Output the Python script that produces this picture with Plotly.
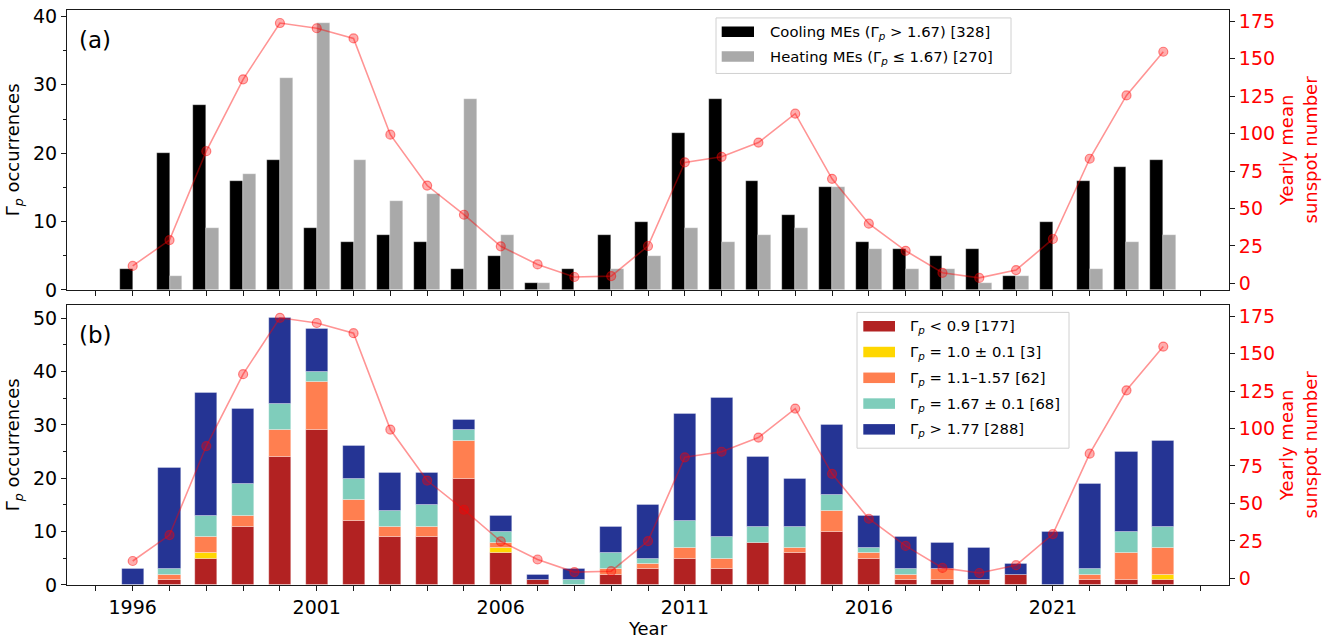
import numpy as np
import plotly.graph_objects as go

# ---------------- data ----------------
years = list(range(1996, 2025))
cooling = [3, 20, 27, 16, 19, 9, 7, 8, 7, 3, 5, 1, 3, 8, 10, 23, 28, 16, 11, 15, 7, 6, 5, 6, 2, 10, 16, 18, 19]
heating = [0, 2, 9, 17, 31, 39, 19, 13, 14, 28, 8, 1, 0, 3, 5, 9, 7, 8, 9, 15, 6, 3, 3, 1, 2, 0, 3, 7, 8]

g_lt09 = [0, 1, 5, 11, 24, 29, 12, 9, 9, 20, 6, 1, 0, 2, 3, 5, 3, 8, 6, 10, 5, 1, 1, 1, 2, 0, 1, 1, 1]
g_10 = [0, 0, 1, 0, 0, 0, 0, 0, 0, 0, 1, 0, 0, 0, 0, 0, 0, 0, 0, 0, 0, 0, 0, 0, 0, 0, 0, 0, 1]
g_11_157 = [0, 1, 3, 2, 5, 9, 4, 2, 2, 7, 1, 0, 0, 1, 1, 2, 2, 0, 1, 4, 1, 1, 2, 0, 0, 0, 1, 5, 5]
g_167 = [0, 1, 4, 6, 5, 2, 4, 3, 4, 2, 2, 0, 1, 3, 1, 5, 4, 3, 4, 3, 1, 1, 0, 0, 0, 0, 1, 4, 4]
g_gt177 = [3, 19, 23, 14, 16, 8, 6, 7, 6, 2, 3, 1, 2, 5, 10, 20, 26, 13, 9, 13, 6, 6, 5, 6, 2, 10, 16, 15, 16]

sunspots = [11.6, 28.9, 88.3, 136.3, 173.9, 170.4, 163.6, 99.3, 65.3, 45.8, 24.7, 12.6, 4.2, 4.8,
            24.9, 80.8, 84.5, 94.0, 113.3, 69.8, 39.8, 21.7, 7.0, 3.6, 8.8, 29.6, 83.2, 125.5, 154.7]

label_a = ["Cooling MEs (Γ<sub><i>p</i></sub> &gt; 1.67) [328]",
           "Heating MEs (Γ<sub><i>p</i></sub> ≤ 1.67) [270]"]
label_b = ["Γ<sub><i>p</i></sub> &lt; 0.9 [177]",
           "Γ<sub><i>p</i></sub> = 1.0 ± 0.1 [3]",
           "Γ<sub><i>p</i></sub> = 1.1–1.57 [62]",
           "Γ<sub><i>p</i></sub> = 1.67 ± 0.1 [68]",
           "Γ<sub><i>p</i></sub> &gt; 1.77 [288]"]
colors_a = ["#000000", "#a9a9a9"]
colors_b = ["#b22222", "#ffd700", "#ff7f50", "#7fcdbb", "#253494"]
year_ticks = [1996, 2001, 2006, 2011, 2016, 2021]
left_ticks_a = [0, 10, 20, 30, 40]
left_ticks_b = [0, 10, 20, 30, 40, 50]
right_ticks = [0, 25, 50, 75, 100, 125, 150, 175]

# ---------------- geometry helpers ----------------
W, H = 1330, 641
ML, MR, MT, MB = 67, 101, 5, 56
PW, PH = W - ML - MR, H - MT - MB


def px(x):
    return (x - ML) / PW


def py(y):
    return (H - MB - y) / PH


FONT = "DejaVu Sans"
AX = "#1a1a1a"
TICK = 19
TITLE = 18


def nz(v):
    return [None if a == 0 else a for a in v]


fig = go.Figure()

# panel (a) bars
for vals, col, off in [(cooling, colors_a[0], -0.35), (heating, colors_a[1], 0.0)]:
    fig.add_trace(go.Bar(x=years, y=nz(vals), width=0.35, offset=off, marker_color=col,
                         marker_line=dict(color="rgba(255,255,255,0.6)", width=0.5),
                         showlegend=False, xaxis="x", yaxis="y"))

# panel (b) stacked bars
layers = [g_lt09, g_10, g_11_157, g_167, g_gt177]
base = np.zeros(len(years))
for vals, col in zip(layers, colors_b):
    v = np.array(vals, dtype=float)
    fig.add_trace(go.Bar(x=years, y=nz(vals), base=base.copy(), width=0.6, marker_color=col,
                         marker_line=dict(color="rgba(255,255,255,0.6)", width=0.5),
                         showlegend=False, xaxis="x2", yaxis="y3"))
    base = base + v

# sunspot lines
for ya, xa in [("y2", "x"), ("y4", "x2")]:
    fig.add_trace(go.Scatter(x=years, y=sunspots, mode="lines+markers",
                             line=dict(color="rgba(255,0,0,0.42)", width=1.6),
                             marker=dict(size=9, color="rgba(255,0,0,0.32)",
                                         line=dict(color="rgba(255,0,0,0.45)", width=1.2)),
                             showlegend=False, xaxis=xa, yaxis=ya))

tickfont = dict(family=FONT, size=TICK, color="black")
redfont = dict(family=FONT, size=TICK, color="red")
xr = [1994.215, 2025.785]
sr = [-4.4, 182.6]

xcommon = dict(range=xr, tickvals=year_ticks, ticks="outside", ticklen=5,
               tickcolor=AX, showline=True, linecolor=AX, linewidth=1, mirror=True,
               showgrid=False, zeroline=False, tickfont=tickfont,
               minor=dict(dtick=1, tick0=1996, ticks="outside", ticklen=5, tickcolor=AX, showgrid=False))
ycommon = dict(ticks="outside", ticklen=5, tickcolor=AX, showline=True, linecolor=AX,
               linewidth=1, mirror=True, showgrid=False, zeroline=False, tickfont=tickfont,
               minor=dict(dtick=5, tick0=0, ticks="outside", ticklen=3, tickcolor=AX, showgrid=False))
y2common = dict(side="right", range=sr, tickvals=right_ticks,
                ticks="outside", ticklen=5, tickcolor=AX, showline=True, linecolor=AX,
                linewidth=1, showgrid=False, zeroline=False, tickfont=redfont,
                title=dict(text="Yearly mean<br>sunspot number",
                           font=dict(family=FONT, size=TITLE, color="red"), standoff=6))

ytitle = dict(text="Γ<sub><i>p</i></sub> occurrences", font=dict(family=FONT, size=TITLE, color="black"),
              standoff=8)

fig.update_layout(
    width=W, height=H, margin=dict(l=ML, r=MR, t=MT, b=MB),
    paper_bgcolor="white", plot_bgcolor="white", barmode="overlay", bargap=0,
    font=dict(family=FONT, size=TICK, color="black"),
    xaxis=dict(**xcommon, anchor="y", domain=[0, 1], showticklabels=False),
    xaxis2=dict(**xcommon, anchor="y3", domain=[0, 1], matches="x",
                title=dict(text="Year", font=dict(family=FONT, size=TITLE), standoff=2)),
    yaxis=dict(**ycommon, anchor="x", domain=[py(287.3), 1], range=[0, 40.95],
               tickvals=left_ticks_a, title=ytitle),
    yaxis2=dict(**y2common, anchor="x", overlaying="y"),
    yaxis3=dict(**ycommon, anchor="x2", domain=[0, py(302.3)], range=[0, 52.5],
                tickvals=left_ticks_b, title=ytitle),
    yaxis4=dict(**y2common, anchor="x2", overlaying="y3"),
)

shapes = []
annotations = []

# panel labels
for lab, yc in [("(a)", 35.7), ("(b)", 333)]:
    annotations.append(dict(text=lab, x=px(77), y=py(yc), xref="paper", yref="paper",
                            xanchor="left", yanchor="middle", showarrow=False,
                            font=dict(family=FONT, size=23, color="black")))


def add_legend(box, sw_x, text_x, rows, labels, cols):
    x0, y0, x1, y1 = box
    shapes.append(dict(type="rect", xref="paper", yref="paper", x0=px(x0), x1=px(x1),
                       y0=py(y1), y1=py(y0), line=dict(color="#d0d0d0", width=1),
                       fillcolor="rgba(255,255,255,0.85)", layer="above"))
    for yc, lab, col in zip(rows, labels, cols):
        shapes.append(dict(type="rect", xref="paper", yref="paper", x0=px(sw_x[0]), x1=px(sw_x[1]),
                           y0=py(yc + 5.3), y1=py(yc - 5.3), line=dict(width=0),
                           fillcolor=col, layer="above"))
        annotations.append(dict(text=lab, x=px(text_x), y=py(yc + 0.5), xref="paper", yref="paper",
                                xanchor="left", yanchor="middle", showarrow=False,
                                font=dict(family=FONT, size=14.8, color="black")))


add_legend((716, 13, 1011, 69), (721.7, 754), 768.3, [27, 52], label_a, colors_a)
add_legend((857, 310, 1069, 447), (863.3, 895), 908.3, [324, 350, 376, 402, 428], label_b, colors_b)

fig.update_layout(shapes=shapes, annotations=annotations)
fig.write_html("out.html")
